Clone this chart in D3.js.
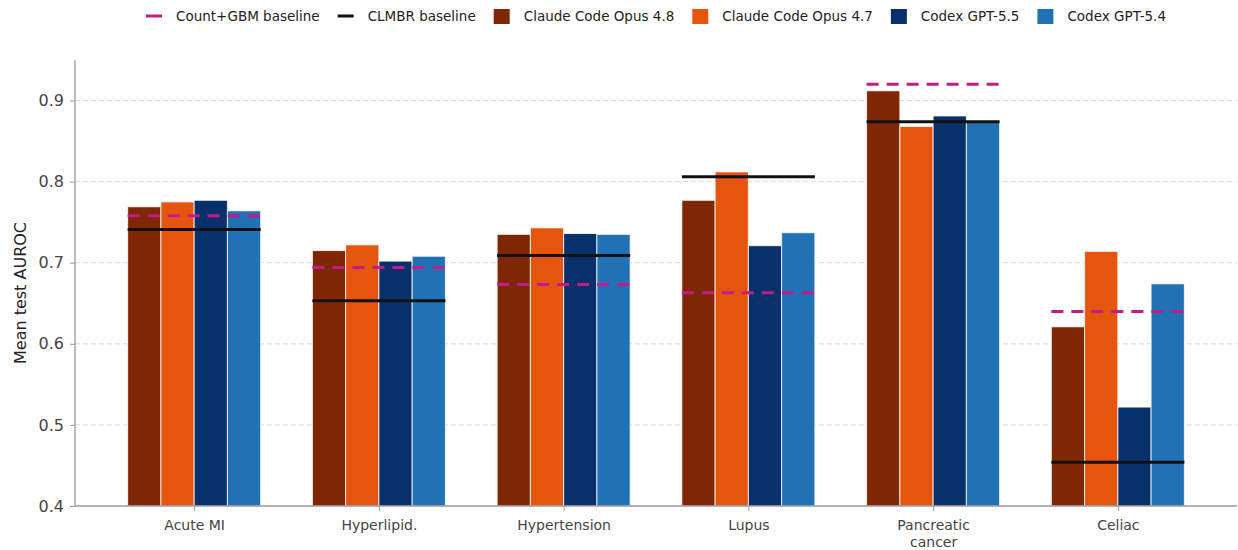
<!DOCTYPE html>
<html>
<head>
  <meta charset='utf-8'>
  <script src="https://cdn.jsdelivr.net/npm/d3@7"></script>
  <style>
    body { margin: 0; background: #fff; }
    text { font-family: "DejaVu Sans", sans-serif; }
  </style>
</head>
<body>
  <script>
    let categories = [["Acute MI"], ["Hyperlipid."], ["Hypertension"], ["Lupus"], ["Pancreatic", "cancer"], ["Celiac"]]
    let seriesNames = ["Claude Code Opus 4.8", "Claude Code Opus 4.7", "Codex GPT-5.5", "Codex GPT-5.4"]
    let opus48 = [0.769, 0.715, 0.735, 0.777, 0.912, 0.621]
    let opus47 = [0.775, 0.722, 0.743, 0.812, 0.868, 0.714]
    let gpt55 = [0.777, 0.702, 0.736, 0.721, 0.881, 0.522]
    let gpt54 = [0.764, 0.708, 0.735, 0.737, 0.873, 0.674]
    let gbmBaseline = [0.758, 0.694, 0.673, 0.663, 0.920, 0.640]
    let clmbrBaseline = [0.741, 0.653, 0.709, 0.806, 0.874, 0.454]
    let yTicks = [0.4, 0.5, 0.6, 0.7, 0.8, 0.9]

    let series = [opus48, opus47, gpt55, gpt54]
    let colors = ["#7f2704", "#e6550d", "#08306b", "#2171b5"]

    let w = 1238, h = 550
    let mLeft = 75, mRight = 1237, mTop = 60, mBottom = 506
    let barW = 0.18

    let svg = d3.select("body").append("svg").attr("width", w).attr("height", h)

    let x = d3.scaleLinear().domain([-0.645, 5.645]).range([mLeft, mRight])
    let y = d3.scaleLinear().domain([0.4, 0.95]).range([mBottom, mTop])

    // grid
    svg.append("g").selectAll("line").data(yTicks.slice(1)).join("line")
      .attr("x1", mLeft).attr("x2", mRight)
      .attr("y1", d => y(d)).attr("y2", d => y(d))
      .attr("stroke", "#d9d9d9").attr("stroke-width", 1)
      .attr("stroke-dasharray", "5,3")

    // bars
    series.forEach((s, si) => {
      svg.append("g").selectAll("rect").data(s).join("rect")
        .attr("x", (d, i) => x(i + (si - 2) * barW))
        .attr("width", x(barW) - x(0))
        .attr("y", d => y(d))
        .attr("height", d => y(0.4) - y(d))
        .attr("fill", colors[si])
        .attr("stroke", "#fff").attr("stroke-opacity", 0.8).attr("stroke-width", 1)
    })

    // baselines
    function baseline(data, color, dash) {
      svg.append("g").selectAll("line").data(data).join("line")
        .attr("x1", (d, i) => x(i - 2 * barW))
        .attr("x2", (d, i) => x(i + 2 * barW))
        .attr("y1", d => y(d)).attr("y2", d => y(d))
        .attr("stroke", color).attr("stroke-width", 3)
        .attr("stroke-dasharray", dash)
    }
    baseline(clmbrBaseline, "#111", null)
    baseline(gbmBaseline, "#c51b8a", "12,8")

    // axes
    let yAxis = d3.axisLeft(y).tickValues(yTicks).tickFormat(d3.format(".1f")).tickSize(5).tickPadding(6)
    let gy = svg.append("g").attr("transform", "translate(" + mLeft + ",0)").call(yAxis)
    gy.select(".domain").attr("stroke", "#999").attr("stroke-width", 1.3).attr("d", "M0," + mTop + "V" + mBottom)
    gy.selectAll(".tick line").attr("stroke", "#999")
    gy.selectAll(".tick text").attr("fill", "#444").style("font-size", "16px")

    let xAxis = d3.axisBottom(x).tickValues(d3.range(categories.length)).tickFormat("").tickSize(5)
    let gx = svg.append("g").attr("transform", "translate(0," + mBottom + ")").call(xAxis)
    gx.select(".domain").attr("stroke", "#999").attr("stroke-width", 1.3).attr("d", "M" + mLeft + ",0H" + mRight)
    gx.selectAll(".tick line").attr("stroke", "#999")
    gx.selectAll(".tick").each(function (d) {
      let t = d3.select(this).append("text").attr("fill", "#444").attr("text-anchor", "middle")
        .style("font-size", "14px")
      categories[d].forEach((line, li) => {
        t.append("tspan").attr("x", 0).attr("y", 24 + li * 17).text(line)
      })
    })

    svg.append("text")
      .attr("transform", "translate(26," + ((mTop + mBottom) / 2 + 10) + ") rotate(-90)")
      .attr("text-anchor", "middle").attr("fill", "#222").style("font-size", "16px")
      .text("Mean test AUROC")

    // legend
    let legendItems = [
      { label: "Count+GBM baseline", type: "dash", color: "#c51b8a" },
      { label: "CLMBR baseline", type: "line", color: "#111" }
    ].concat(seriesNames.map((n, i) => ({ label: n, type: "box", color: colors[i] })))

    let lg = svg.append("g")
    let cx = 0
    legendItems.forEach(it => {
      let g = lg.append("g").attr("transform", "translate(" + cx + ",0)")
      if (it.type == "box") {
        g.append("rect").attr("x", 0).attr("y", -7).attr("width", 16).attr("height", 15).attr("fill", it.color)
      } else {
        g.append("line").attr("x1", 0).attr("x2", 16).attr("y1", 0).attr("y2", 0)
          .attr("stroke", it.color).attr("stroke-width", 3)
      }
      let t = g.append("text").attr("x", 30).attr("y", 5).attr("fill", "#222").style("font-size", "13.5px").text(it.label)
      cx += 30 + t.node().getComputedTextLength() + 18
    })
    cx -= 18
    lg.attr("transform", "translate(" + ((mLeft + mRight) / 2 - cx / 2) + ",16)")
  </script>
</body>
</html>
